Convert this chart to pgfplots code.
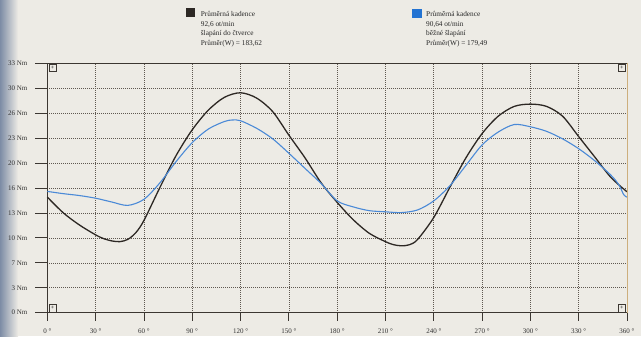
\documentclass[border=0pt]{standalone}
\usepackage{fontspec}
\setmainfont{Liberation Serif}
\usepackage{pgfplots}
\pgfplotsset{compat=1.18}
\definecolor{bg}{RGB}{237,235,229}
\definecolor{edge}{RGB}{125,140,165}
\definecolor{axcol}{RGB}{60,55,50}
\definecolor{gridcol}{RGB}{95,88,80}
\definecolor{blk}{RGB}{45,40,36}
\definecolor{blu}{RGB}{75,138,215}
\definecolor{blusq}{RGB}{35,115,210}
\definecolor{tan}{RGB}{205,175,125}
\begin{document}
\begin{tikzpicture}[x=1bp,y=1bp]
\useasboundingbox (0,0) rectangle (641,336);
\fill[bg] (0,0) rectangle (641,336);
\shade[left color=edge,right color=bg] (0,0) rectangle (18,336);
% legend
\fill[blk] (186,319) rectangle (195,327.5);
\fill[blusq] (412,317.5) rectangle (422,327);
\begin{scope}[every node/.style={anchor=base west,inner sep=0,font=\fontsize{7.3bp}{9bp}\selectfont,text=black!85}]
\node at (200.7,319.5) {Průměrná kadence};
\node at (200.7,310) {92,6 ot/min};
\node at (200.7,300.5) {šlapání do čtverce};
\node at (200.7,291) {Průměr(W) = 183,62};
\node at (426,319.5) {Průměrná kadence};
\node at (426,310) {90,64 ot/min};
\node at (426,300.5) {běžné šlapání};
\node at (426,291) {Průměr(W) = 179,49};
\end{scope}
\begin{axis}[
  at={(47.3bp,23.3bp)}, anchor=south west,
  scale only axis, width=579.7bp, height=249.4bp,
  xmin=0, xmax=360, ymin=0, ymax=33,
  axis line style={axcol, line width=0.8bp},
  xtick={0,30,...,360},
  xticklabels={0~°,30~°,60~°,90~°,120~°,150~°,180~°,210~°,240~°,270~°,300~°,330~°,360~°},
  ytick={0,3.3,6.6,9.9,13.2,16.5,19.8,23.1,26.4,29.7,33},
  yticklabels={0 Nm,3 Nm,7 Nm,10 Nm,13 Nm,16 Nm,20 Nm,23 Nm,26 Nm,30 Nm,33 Nm},
  tick align=outside, xtick pos=bottom, ytick pos=left,
  xtick style={axcol, line width=0.8bp, /pgfplots/major tick length=8bp},
  ytick style={axcol, line width=0.8bp, /pgfplots/major tick length=12bp},
  ticklabel style={font=\fontsize{7bp}{8bp}\selectfont, text=black!80},
  yticklabel style={anchor=east, inner sep=0pt, xshift=-15.5bp},
  xticklabel style={yshift=-8bp},
  /pgf/number format/assume math mode=true,
  grid=major,
  major grid style={gridcol, line width=0.6bp, dash pattern=on 0.9bp off 1.1bp},
  clip=false,
]
\addplot[blk, line width=1.3bp, smooth] coordinates {
(0,15.3)(10,13.2)(20,11.6)(30,10.3)(35,9.8)(40,9.5)(45,9.4)(50,9.7)(55,10.6)(60,12.2)(70,16.6)(80,20.8)(90,24.2)(100,26.8)(110,28.5)(120,29.1)(130,28.4)(140,26.6)(150,23.5)(160,20.5)(170,17.2)(180,14.6)
(190,12.3)(200,10.5)(210,9.4)(215,9.0)(220,8.85)(225,9.0)(230,9.7)(240,12.6)(250,16.6)(260,20.5)(270,23.7)(280,26.0)(290,27.3)(300,27.6)(310,27.3)(320,26.0)(330,23.3)(340,20.6)(350,17.9)(360,16.0)
};
\addplot[blu, line width=1.1bp, smooth] coordinates {
(0,16.05)(10,15.75)(20,15.5)(30,15.15)(40,14.65)(50,14.2)(60,15.0)(70,17.2)(80,20.0)(90,22.5)(100,24.3)(110,25.3)(115,25.5)(120,25.4)(130,24.4)(140,23.0)(150,21.1)(160,19.1)(170,17.1)(180,14.8)
(190,14.0)(200,13.5)(210,13.35)(220,13.25)(230,13.6)(240,14.8)(250,16.8)(260,19.5)(270,22.2)(280,23.9)(290,24.9)(300,24.6)(310,24.0)(320,23.0)(330,21.7)(340,20.1)(350,18.2)(355,16.9)(358,15.6)(360,15.3)
};
\draw[tan, line width=0.9bp] (rel axis cs:1,0) -- (rel axis cs:1,1);
\node[draw=axcol, line width=0.5bp, fill=bg, inner sep=0, minimum size=7.5bp, anchor=north west, font=\fontsize{6bp}{6bp}\selectfont, xshift=1.2bp, yshift=-0.6bp] at (rel axis cs:0,1) {+};
\node[draw=axcol, line width=0.5bp, fill=bg, inner sep=0, minimum size=7.5bp, anchor=south west, font=\fontsize{6bp}{6bp}\selectfont, xshift=1.2bp, yshift=0.6bp] at (rel axis cs:0,0) {+};
\node[draw=axcol, line width=0.5bp, fill=bg, inner sep=0, minimum size=7.5bp, anchor=north east, font=\fontsize{6bp}{6bp}\selectfont, xshift=-1.2bp, yshift=-0.6bp] at (rel axis cs:1,1) {+};
\node[draw=axcol, line width=0.5bp, fill=bg, inner sep=0, minimum size=7.5bp, anchor=south east, font=\fontsize{6bp}{6bp}\selectfont, xshift=-1.2bp, yshift=0.6bp] at (rel axis cs:1,0) {+};
\end{axis}
\end{tikzpicture}
\end{document}
